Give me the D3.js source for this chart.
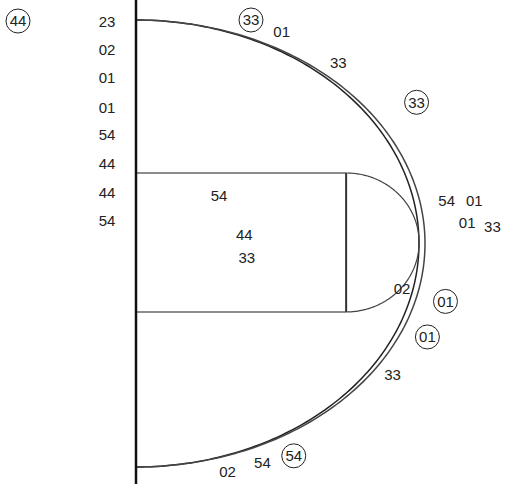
<!DOCTYPE html>
<html>
<head>
<meta charset="utf-8">
<script src="https://cdn.jsdelivr.net/npm/d3@7"></script>
<style>
  html, body { margin: 0; padding: 0; background: #fff; }
  svg { display: block; }
  text { font-family: "Liberation Sans", Arial, sans-serif; }
</style>
</head>
<body>
<svg id="chart" width="507" height="484"></svg>
<script>
// ---- data (court units: depth from baseline, lateral from center, in feet) ----
const labels   = ["44","23","02","01","01","54","44","44","54","33","01","33","33","54","44","33","02","54","01","01","33","01","01","33","54","54","02"];
const depths   = [-9.8,-2.4,-2.4,-2.4,-2.4,-2.4,-2.4,-2.4,-2.4, 9.55,12.1,16.8,23.3, 6.9, 9.0, 9.2,22.1,25.8,28.1,27.5,29.6,25.7,24.2,21.3,13.1,10.5, 7.6];
const laterals = [-21.9,-21.8,-19.05,-16.3,-13.4,-10.7,-7.9,-5.0,-2.3,-22.0,-20.9,-17.8,-13.9,-4.7,-0.9,1.4,4.4,-4.2,-4.2,-2.1,-1.7,5.7,9.2,12.9,20.9,21.6,22.5];
const circled  = [true,false,false,false,false,false,false,false,false,true,false,false,true,false,false,false,false,false,false,false,false,true,true,false,true,false,false];

// court geometry (court units)
const arcOuter = {depth: 24.0, lateral: 22.0};
const arcInner = {depth: 23.5, lateral: 22.0};
const paint = {depth: 17.45, top: -6.94, bottom: 6.74};
const ftArc = {cDepth: 17.45, cLat: -0.1, rDepth: 6.06, rLat: 6.84};

const svg = d3.select("#chart");
const x = d3.scaleLinear().domain([0, 24]).range([136, 425]);
const y = d3.scaleLinear().domain([-22, 22]).range([20, 467]);

const angles = d3.range(-90, 90.5, 1).map(a => a * Math.PI / 180);
const line = d3.line().x(d => x(d[0])).y(d => y(d[1])).curve(d3.curveLinear);

// three-point arcs (double line)
[arcInner, arcOuter].forEach((a, i) => {
  svg.append("path")
    .attr("d", line(angles.map(t => [a.depth * Math.cos(t), a.lateral * Math.sin(t)])))
    .attr("fill", "none")
    .attr("stroke", i === 0 ? "#222" : "#444")
    .attr("stroke-width", 1.5);
});

// paint
svg.append("line").attr("x1", x(0)).attr("x2", x(paint.depth)).attr("y1", y(paint.top)).attr("y2", y(paint.top))
  .attr("stroke", "#666").attr("stroke-width", 1.5);
svg.append("line").attr("x1", x(0)).attr("x2", x(paint.depth)).attr("y1", y(paint.bottom)).attr("y2", y(paint.bottom))
  .attr("stroke", "#666").attr("stroke-width", 1.5);
svg.append("line").attr("x1", x(paint.depth)).attr("x2", x(paint.depth)).attr("y1", y(paint.top)).attr("y2", y(paint.bottom))
  .attr("stroke", "#333").attr("stroke-width", 2);

// free throw semicircle
svg.append("path")
  .attr("d", line(angles.map(t => [ftArc.cDepth + ftArc.rDepth * Math.cos(t), ftArc.cLat + ftArc.rLat * Math.sin(t)])))
  .attr("fill", "none").attr("stroke", "#444").attr("stroke-width", 1.2);

// baseline
svg.append("line").attr("x1", x(0)).attr("x2", x(0)).attr("y1", 0).attr("y2", 484)
  .attr("stroke", "#111").attr("stroke-width", 2.5);

// labels
const data = labels.map((l, i) => ({label: l, d: depths[i], l2: laterals[i], c: circled[i]}));
const g = svg.selectAll("g.shot").data(data).enter().append("g")
  .attr("class", "shot")
  .attr("transform", d => `translate(${x(d.d)},${y(d.l2)})`);
g.filter(d => d.c).append("circle").attr("r", 12)
  .attr("fill", "#fff").attr("stroke", "#222").attr("stroke-width", 1);
g.append("text").text(d => d.label)
  .attr("text-anchor", "middle").attr("dy", "0.36em")
  .attr("font-size", 15).attr("fill", "#222");
</script>
</body>
</html>
